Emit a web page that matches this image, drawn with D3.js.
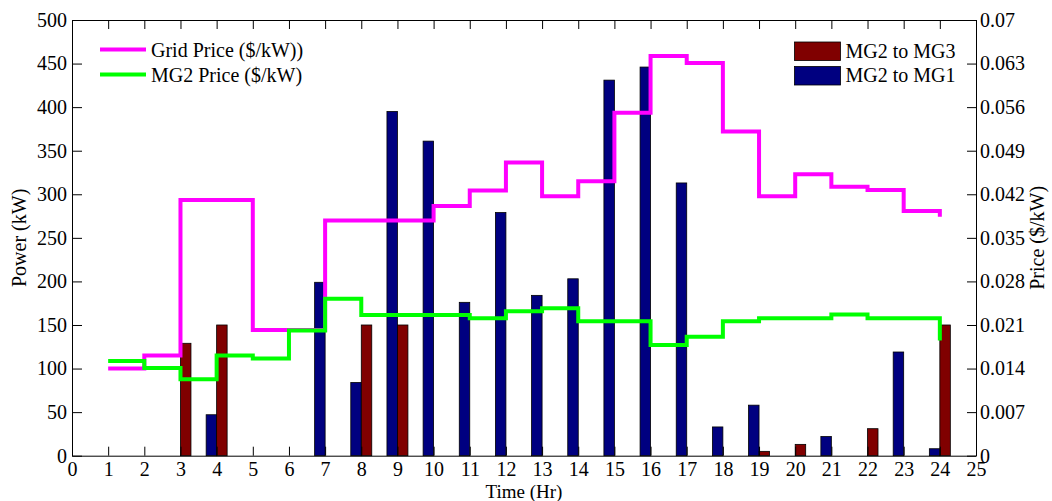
<!DOCTYPE html>
<html>
<head>
<meta charset="utf-8">
<script src="https://cdn.jsdelivr.net/npm/d3@7"></script>
<style>
  body { margin: 0; background: #fff; }
  svg text { font-family: "Liberation Serif", "Times New Roman", serif; }
</style>
</head>
<body>
<svg id="chart" width="1052" height="501"></svg>
<script>
"use strict";

// hours of the day
const hours = [1, 2, 3, 4, 5, 6, 7, 8, 9, 10, 11, 12, 13, 14, 15, 16, 17, 18, 19, 20, 21, 22, 23, 24];

// power exchanged (kW)
const mg2ToMg1 = [0, 0, 0, 47, 0, 0, 199, 84, 395, 361, 176, 279, 184, 203, 431, 446, 313, 33, 58, 0, 22, 0, 119, 8];
const mg2ToMg3 = [0, 0, 129, 150, 0, 0, 0, 150, 150, 0, 0, 0, 0, 0, 0, 0, 0, 0, 5, 13, 0, 31, 0, 150];

// prices ($/kW)
const gridPrice = [0.0140, 0.0161, 0.0411, 0.0411, 0.0202, 0.0202, 0.0378, 0.0378, 0.0378, 0.0401, 0.0426, 0.0471,
                   0.0417, 0.0441, 0.0551, 0.0642, 0.0631, 0.0521, 0.0417, 0.0452, 0.0432, 0.0427, 0.0393, 0.0384];
const mg2Price  = [0.0152, 0.0141, 0.0123, 0.0161, 0.0156, 0.0201, 0.0252, 0.0226, 0.0226, 0.0226, 0.0221, 0.0232,
                   0.0237, 0.0216, 0.0216, 0.0178, 0.0191, 0.0216, 0.0221, 0.0221, 0.0227, 0.0221, 0.0221, 0.0185];

// tick values / labels
const hourTicks = [0, 1, 2, 3, 4, 5, 6, 7, 8, 9, 10, 11, 12, 13, 14, 15, 16, 17, 18, 19, 20, 21, 22, 23, 24, 25];
const powerTicks = [0, 50, 100, 150, 200, 250, 300, 350, 400, 450, 500];
const priceTicks = [0, 0.007, 0.014, 0.021, 0.028, 0.035, 0.042, 0.049, 0.056, 0.063, 0.07];
const priceTickLabels = ["0", "0.007", "0.014", "0.021", "0.028", "0.035", "0.042", "0.049", "0.056", "0.063", "0.07"];

const margin = { top: 20, right: 76, bottom: 45.3, left: 72 },
      width  = 1052,
      height = 501;

const svg = d3.select("#chart");
const FONT = 20;

// scales
const x  = d3.scaleLinear().domain([0, 25]).range([margin.left, width - margin.right]);
const y  = d3.scaleLinear().domain([0, 500]).range([height - margin.bottom, margin.top]);
const y2 = d3.scaleLinear().domain([0, 0.07]).range([height - margin.bottom, margin.top]);

const barW = x(0.29) - x(0);

// bars (blue left of the hour, red right of it)
const barData = [];
hours.forEach((h, i) => {
  if (mg2ToMg1[i] > 0) barData.push({ h: h, v: mg2ToMg1[i], side: -1, color: "#000080" });
  if (mg2ToMg3[i] > 0) barData.push({ h: h, v: mg2ToMg3[i], side: 0, color: "#800000" });
});

svg.append("g")
    .attr("class", "bars")
  .selectAll("rect")
    .data(barData)
  .enter().append("rect")
    .attr("x", (d) => x(d.h) + d.side * barW)
    .attr("y", (d) => y(d.v))
    .attr("width", barW)
    .attr("height", (d) => y(0) - y(d.v))
    .attr("fill", (d) => d.color)
    .attr("stroke", "#000")
    .attr("stroke-width", 0.8);

// axes
function styleAxis(g) {
  g.attr("font-family", null).attr("font-size", null);
  g.selectAll("text").style("font-size", FONT + "px").attr("fill", "#000");
  g.selectAll("line, path").attr("stroke", "#000").attr("stroke-width", 1);
}

svg.append("g")
    .attr("transform", "translate(0," + y(0) + ")")
    .call(d3.axisBottom(x).tickValues(hourTicks).tickSizeInner(-9).tickSizeOuter(0).tickPadding(6))
    .call(styleAxis);

svg.append("g")
    .attr("transform", "translate(0," + margin.top + ")")
    .call(d3.axisTop(x).tickValues(hourTicks).tickSizeInner(-9).tickSizeOuter(0).tickFormat(""))
    .call(styleAxis);

svg.append("g")
    .attr("transform", "translate(" + margin.left + ",0)")
    .call(d3.axisLeft(y).tickValues(powerTicks).tickSizeInner(-10).tickSizeOuter(0).tickPadding(5))
    .call(styleAxis);

svg.append("g")
    .attr("transform", "translate(" + x(25) + ",0)")
    .call(d3.axisRight(y2).tickValues(priceTicks).tickSizeInner(-9).tickSizeOuter(0).tickPadding(4)
            .tickFormat((d, i) => priceTickLabels[i]))
    .call(styleAxis);

// price step lines
const stairs = d3.line()
    .x((d) => x(d[0]))
    .y((d) => y2(d[1]))
    .curve(d3.curveStepAfter);

svg.append("path")
    .datum(hours.map((h, i) => [h, gridPrice[i]]))
    .attr("d", stairs)
    .attr("fill", "none")
    .attr("stroke", "#ff00ff")
    .attr("stroke-width", 4);

svg.append("path")
    .datum(hours.map((h, i) => [h, mg2Price[i]]))
    .attr("d", stairs)
    .attr("fill", "none")
    .attr("stroke", "#00ff00")
    .attr("stroke-width", 4);

// axis titles
svg.append("text")
    .attr("x", x(12.5))
    .attr("y", 498)
    .attr("text-anchor", "middle")
    .style("font-size", "19px")
    .text("Time (Hr)");

svg.append("text")
    .attr("transform", "translate(26," + ((y(0) + y(500)) / 2) + ") rotate(-90)")
    .attr("text-anchor", "middle")
    .style("font-size", FONT + "px")
    .text("Power (kW)");

svg.append("text")
    .attr("transform", "translate(1044," + ((y(0) + y(500)) / 2) + ") rotate(-90)")
    .attr("text-anchor", "middle")
    .style("font-size", FONT + "px")
    .text("Price ($/kW)");

// legend: price lines
const lineLegend = [
  { label: "Grid Price ($/kW))", color: "#ff00ff" },
  { label: "MG2 Price ($/kW)", color: "#00ff00" }
];
const lg = svg.append("g").attr("transform", "translate(100,49.5)");
lineLegend.forEach((d, i) => {
  lg.append("line")
      .attr("x1", 0).attr("x2", 46)
      .attr("y1", i * 25).attr("y2", i * 25)
      .attr("stroke", d.color).attr("stroke-width", 4);
  lg.append("text")
      .attr("x", 51).attr("y", i * 25 + 7)
      .style("font-size", FONT + "px")
      .text(d.label);
});

// legend: bars
const barLegend = [
  { label: "MG2 to MG3", color: "#800000" },
  { label: "MG2 to MG1", color: "#000080" }
];
const bg = svg.append("g").attr("transform", "translate(794.5,42)");
barLegend.forEach((d, i) => {
  bg.append("rect")
      .attr("x", 0).attr("y", i * 24.5)
      .attr("width", 46).attr("height", 18.5)
      .attr("fill", d.color)
      .attr("stroke", "#000").attr("stroke-width", 0.8);
  bg.append("text")
      .attr("x", 51).attr("y", i * 24.5 + 15.5)
      .style("font-size", FONT + "px")
      .text(d.label);
});
</script>
</body>
</html>
